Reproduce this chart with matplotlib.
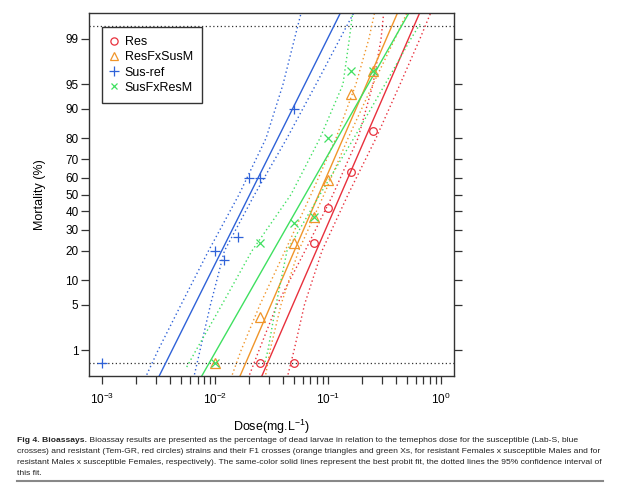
import numpy as np
import matplotlib
matplotlib.use('Agg')
import matplotlib.pyplot as plt
from matplotlib.lines import Line2D
from matplotlib import font_manager as fm
from statistics import NormalDist

plt.rcParams['font.family'] = ['Liberation Sans', 'DejaVu Sans']
plt.rcParams['mathtext.fontset'] = 'custom'
plt.rcParams['mathtext.rm'] = 'Liberation Sans'
plt.rcParams['mathtext.it'] = 'Liberation Sans:italic'
plt.rcParams['mathtext.bf'] = 'Liberation Sans:bold'

# ---------------- data ----------------
strains = ['Res', 'ResFxSusM', 'Sus-ref', 'SusFxResM']
colors = ['#e8303c', '#f0952a', '#2f62d8', '#3fe060']
markers = ['o', '^', '+', 'x']

res_dose = [0.025, 0.05, 0.075, 0.1, 0.16, 0.25]
res_mort = [0, 0, 23.4, 42, 63, 83]
rfs_dose = [0.01, 0.025, 0.05, 0.075, 0.1, 0.16, 0.25]
rfs_mort = [0, 3.4, 23.4, 36.8, 58.7, 93.4, 96.7]
sus_dose = [0.001, 0.01, 0.012, 0.016, 0.02, 0.025, 0.05]
sus_mort = [0, 20, 16.5, 26.5, 60, 60, 90]
sfr_dose = [0.01, 0.025, 0.05, 0.075, 0.1, 0.16, 0.25]
sfr_mort = [0, 23.4, 33.4, 37, 80, 96.7, 96.7]

# best probit fits: LD50 (mg/L) and slope (probits per log10 dose)
ld50 = [0.130, 0.0830, 0.0203, 0.0631]
slope = [3.875, 3.883, 3.374, 2.951]

# 95% confidence limits (mortality %, dose mg/L)
ci_pct = [0.3, 1, 5, 20, 50, 80, 95, 99, 99.7]
res_lo = [0.0196, 0.0245, 0.0354, 0.0627, 0.111, 0.185, 0.251, 0.296, 0.314]
res_hi = [0.0434, 0.0501, 0.0620, 0.0886, 0.151, 0.267, 0.436, 0.655, 0.832]
rfs_lo = [0.0138, 0.0170, 0.0250, 0.0417, 0.0709, 0.118, 0.177, 0.231, 0.262]
rfs_hi = [0.0277, 0.0307, 0.0384, 0.0549, 0.0924, 0.151, 0.251, 0.393, 0.513]
sus_lo = [0.00239, 0.00312, 0.00499, 0.00874, 0.0163, 0.0283, 0.0400, 0.0506, 0.0586]
sus_hi = [0.00644, 0.00735, 0.00910, 0.0121, 0.0224, 0.0434, 0.0784, 0.128, 0.174]
sfr_lo_pct = [0.5, 1, 5, 20, 50, 80, 95, 99, 99.7]
sfr_lo = [0.00560, 0.00677, 0.0115, 0.0212, 0.0471, 0.0851, 0.136, 0.155, 0.167]
sfr_hi_pct = [0.62, 1, 5, 20, 50, 80, 95, 99, 99.45]
sfr_hi = [0.0277, 0.0294, 0.0347, 0.0434, 0.0851, 0.170, 0.321, 0.545, 0.655]

edge_pct = 0.59          # level at which 0 % (and 100 %) observations are drawn
ytick_pct = [1, 5, 10, 20, 30, 40, 50, 60, 70, 80, 90, 95, 99]
xtick_major = [1e-3, 1e-2, 1e-1, 1e0]

nd = NormalDist()


def probit(p):
    p = np.atleast_1d(np.asarray(p, dtype=float))
    out = []
    for v in p:
        if v <= 0:
            v = edge_pct
        elif v >= 100:
            v = 100 - edge_pct
        out.append(nd.inv_cdf(v / 100.0))
    return np.array(out)


# ---------------- figure ----------------
W, H = 620, 486
fig = plt.figure(figsize=(W / 100, H / 100), dpi=100)
ax = fig.add_axes([89 / W, 1 - 376 / H, 365 / W, 363 / H])
ax.set_xscale('log')
ax.set_xlim(10 ** -3.118, 10 ** 0.118)
ax.set_ylim(-2.71, 2.71)

dot = (0, (1, 2))
# 0 % / 100 % reference lines
for yv in (probit(edge_pct)[0], probit(100 - edge_pct)[0]):
    ax.axhline(yv, color='#333333', lw=0.9, ls=dot, zorder=1)

doses = [res_dose, rfs_dose, sus_dose, sfr_dose]
morts = [res_mort, rfs_mort, sus_mort, sfr_mort]
ci = [
    ((ci_pct, res_lo), (ci_pct, res_hi)),
    ((ci_pct, rfs_lo), (ci_pct, rfs_hi)),
    ((ci_pct, sus_lo), (ci_pct, sus_hi)),
    ((sfr_lo_pct, sfr_lo), (sfr_hi_pct, sfr_hi)),
]

yr = np.linspace(-3.0, 3.0, 50)
for i, name in enumerate(strains):
    c = colors[i]
    # best fit
    ax.plot(ld50[i] * 10 ** (yr / slope[i]), yr, color=c, lw=1.0, zorder=2)
    # confidence limits
    for pc, dd in ci[i]:
        ax.plot(dd, probit(pc), color=c, lw=1.0, ls=dot, zorder=2)

msize = {'o': 5.5, '^': 6.8, '+': 7.5, 'x': 5.5}
for i, name in enumerate(strains):
    c = colors[i]
    m = markers[i]
    kw = dict(ls='none', marker=m, ms=msize[m], mew=0.9, zorder=3)
    if m in ('o', '^'):
        kw.update(mfc='none', mec=c)
    else:
        kw.update(color=c)
    ax.plot(doses[i], probit(morts[i]), **kw)

# axes styling
for s in ax.spines.values():
    s.set_color('#333333')
    s.set_linewidth(1.0)

ax.set_xticks(xtick_major)
ax.set_xticklabels([r'$10^{%d}$' % int(np.log10(v)) for v in xtick_major])
minor = [k * 10.0 ** e for e in (-3, -2, -1) for k in range(2, 10)]
ax.set_xticks(minor, minor=True)
ax.xaxis.set_minor_formatter(plt.NullFormatter())
ax.set_yticks(probit(ytick_pct))
ax.set_yticklabels([str(v) for v in ytick_pct])
ax.yaxis.set_minor_locator(plt.NullLocator())
ax.tick_params(axis='both', which='both', direction='out', length=5.5, width=0.9,
               color='#333333', labelsize=8.5)
ax.tick_params(axis='x', which='both', pad=6)
ax.tick_params(axis='y', which='both', right=True, labelright=False, pad=2)

ax.set_ylabel('Mortality (%)', fontsize=9, labelpad=14)
ax.set_xlabel(r'Dose(mg.L$^{-1}$)', fontsize=9, labelpad=8)

handles = []
lsize = {'o': 5.2, '^': 6.0, '+': 7.0, 'x': 5.0}
for i, name in enumerate(strains):
    m = markers[i]
    if m in ('o', '^'):
        h = Line2D([], [], ls='none', marker=m, ms=lsize[m], mfc='none',
                   mec=colors[i], mew=0.9)
    else:
        h = Line2D([], [], ls='none', marker=m, ms=lsize[m], color=colors[i], mew=0.9)
    handles.append(h)
leg = ax.legend(handles, strains, loc='upper left',
                bbox_to_anchor=((102.3 - 89) / 365, (376 - 26.7) / 363),
                borderaxespad=0, fontsize=9, frameon=True, fancybox=False,
                framealpha=1, edgecolor='#333333', borderpad=0.75,
                handlelength=0.3, handletextpad=0.75, labelspacing=0.26)
leg.get_frame().set_linewidth(1.0)

# ---------------- caption ----------------
names = {f.name for f in fm.fontManager.ttflist}
cap_family = 'Liberation Sans Narrow' if 'Liberation Sans Narrow' in names else 'Liberation Sans'
cap_lines = [
    ('Fig 4. Bioassays.', ' Bioassay results are presented as the percentage of dead larvae in relation to the temephos dose for the susceptible (Lab-S, blue'),
    ('', 'crosses) and resistant (Tem-GR, red circles) strains and their F1 crosses (orange triangles and green Xs, for resistant Females x susceptible Males and for'),
    ('', 'resistant Males x susceptible Females, respectively). The same-color solid lines represent the best probit fit, the dotted lines the 95% confidence interval of'),
    ('', 'this fit.'),
]
cap_y = [440, 451, 462, 473]
x0 = 17
target = 603 - 17
renderer = fig.canvas.get_renderer()
probe = fig.text(0, 0, cap_lines[1][1], fontsize=6, family=cap_family)
wpx = probe.get_window_extent(renderer).width
probe.remove()
cap_fs = 6 * target / wpx

for (b, t), yy in zip(cap_lines, cap_y):
    xx = x0 / W
    if b:
        tb = fig.text(xx, 1 - yy / H, b, fontsize=cap_fs, family=cap_family,
                      weight='bold', va='center', ha='left', color='#222222')
        xx += tb.get_window_extent(renderer).width / W
    fig.text(xx, 1 - yy / H, t, fontsize=cap_fs, family=cap_family, va='center',
             ha='left', color='#222222')

fig.add_artist(Line2D([17 / W, 603 / W], [1 - 481 / H, 1 - 481 / H], color='#888888', lw=1.5))

fig.savefig('out.png', dpi=100)
